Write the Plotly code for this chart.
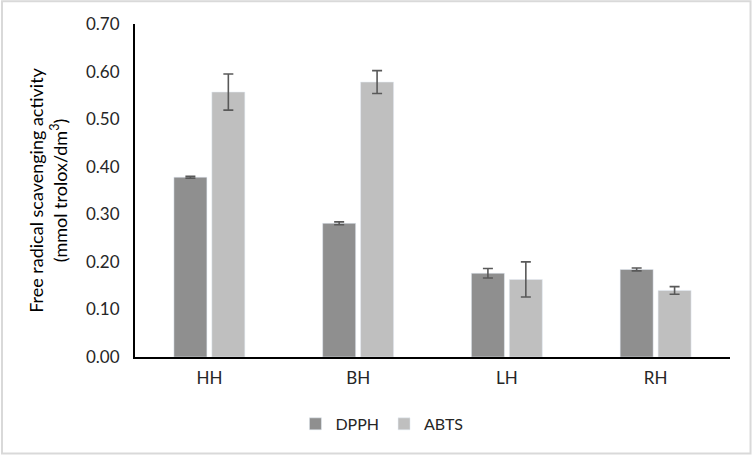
import plotly.graph_objects as go

# Data
samples = ['HH', 'BH', 'LH', 'RH']
dpph = [0.378, 0.281, 0.176, 0.184]
dpph_err = [0.002, 0.003, 0.010, 0.003]
abts = [0.557, 0.578, 0.163, 0.140]
abts_err = [0.038, 0.024, 0.037, 0.008]

err_style = dict(type='data', visible=True, color='#595959', thickness=1.6, width=5)

fig = go.Figure()
fig.add_trace(go.Bar(x=samples, y=dpph, name='DPPH', marker_color='#8f8f8f',
                     error_y=dict(array=dpph_err, **err_style)))
fig.add_trace(go.Bar(x=samples, y=abts, name='ABTS', marker_color='#bfbfbf',
                     error_y=dict(array=abts_err, **err_style)))

fig.update_layout(
    width=753, height=456,
    paper_bgcolor='white', plot_bgcolor='white',
    font=dict(family='Lato, Open Sans, sans-serif', size=17, color='#262626'),
    barmode='group', bargap=0.49, bargroupgap=0.13,
    margin=dict(l=135, r=23, t=24, b=99, autoexpand=False),
    legend=dict(orientation='h', x=0.415, xanchor='center', y=-0.15, yanchor='top',
                font=dict(size=16, color='#262626'), itemwidth=30),
    showlegend=True,
)
fig.update_xaxes(showline=True, linecolor='black', linewidth=2, showgrid=False,
                 ticks='', automargin=False, ticklabelstandoff=5,
                 tickfont=dict(size=17, color='#262626'))
fig.update_yaxes(range=[0, 0.70], dtick=0.10, tickformat='.2f', showline=True,
                 linecolor='black', linewidth=2, showgrid=False, zeroline=False,
                 ticks='', ticklen=0, automargin=False, ticklabelstandoff=10,
                 tickfont=dict(size=17, color='#262626'),
                 title=dict(text='Free radical scavenging activity<br>(mmol trolox/dm<sup>3</sup>)',
                            font=dict(size=18, color='#000000'), standoff=14))

# thin light border around the whole chart
fig.add_shape(type='rect', xref='paper', yref='paper', x0=-0.2235, x1=1.0345, y0=-0.2895, y1=1.068,
              line=dict(color='#d9d9d9', width=2))

fig.write_html("out.html", config={'displayModeBar': False},
               post_script="document.body.style.margin='0';")
